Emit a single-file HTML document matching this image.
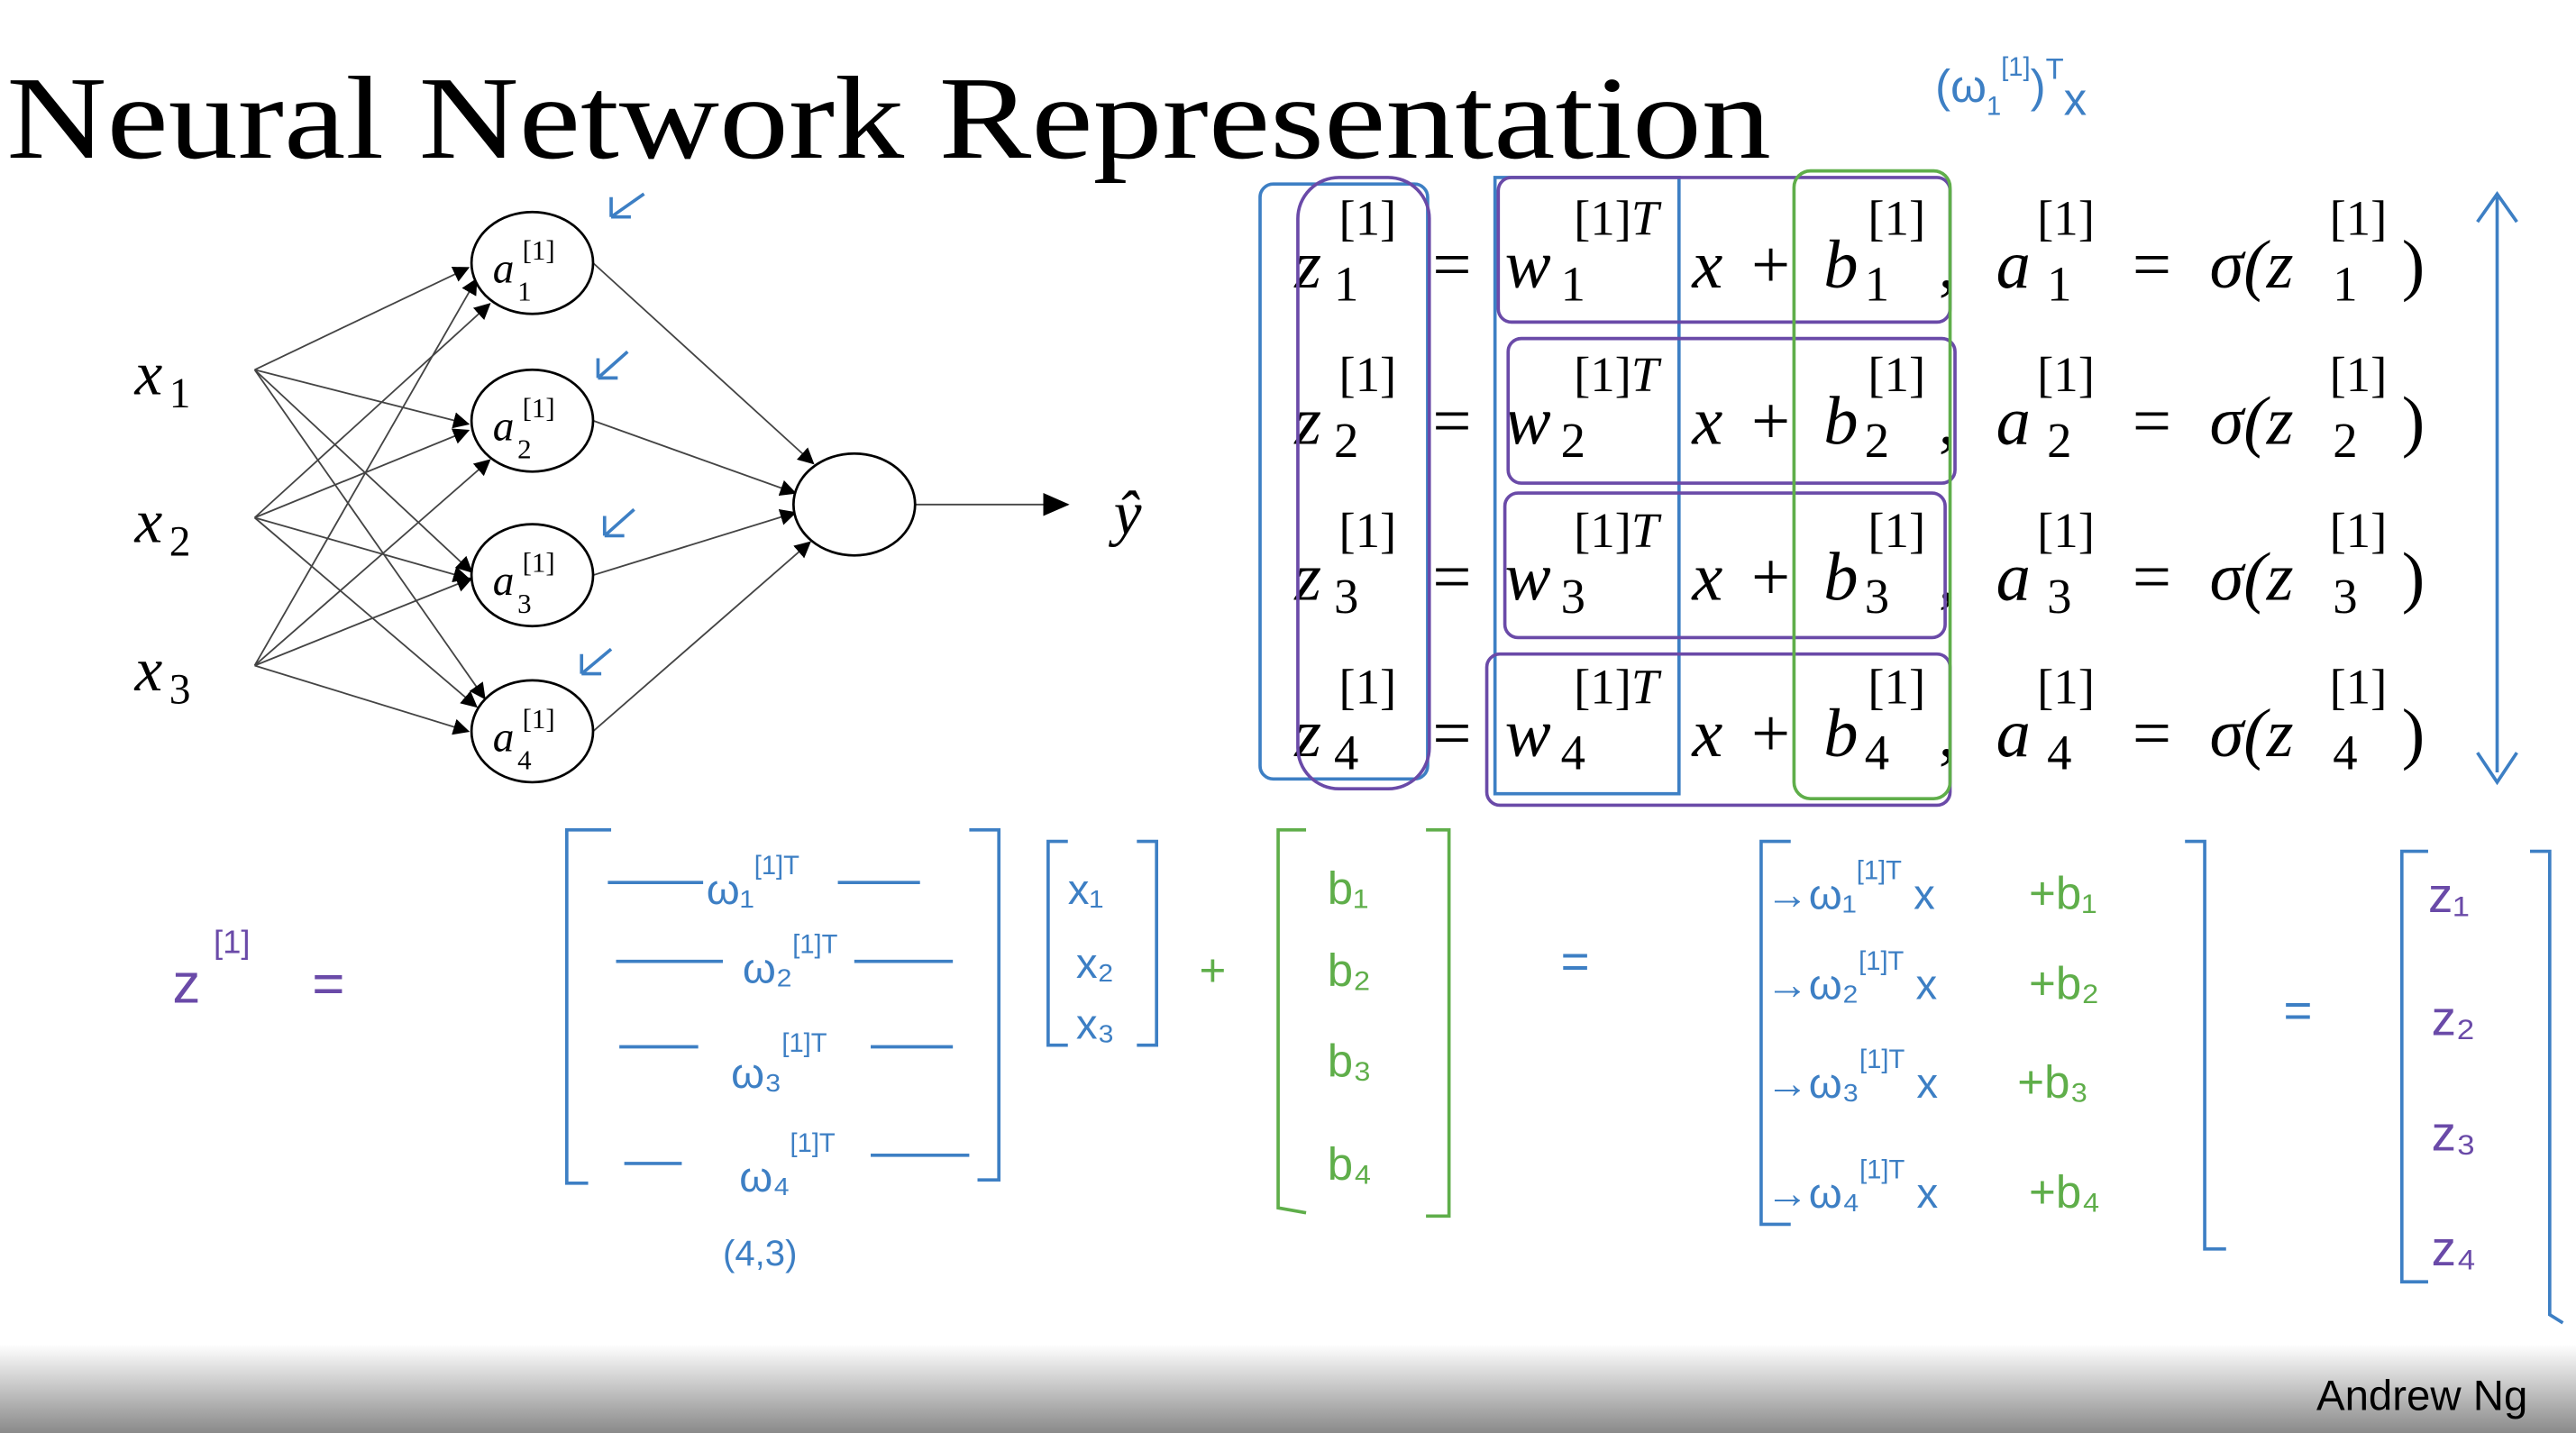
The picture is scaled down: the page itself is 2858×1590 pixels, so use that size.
<!DOCTYPE html>
<html><head><meta charset="utf-8"><style>
html,body{margin:0;padding:0;background:#fff;}
svg{display:block;}
.t{font-family:"Liberation Serif",serif;}
.m{font-family:"Liberation Serif",serif;font-style:italic;}
.h{font-family:"Liberation Sans",sans-serif;}
</style></head><body>
<svg width="2858" height="1590" viewBox="0 0 1568 872" preserveAspectRatio="none" xmlns="http://www.w3.org/2000/svg">
<defs>
<marker id="ar" markerWidth="10" markerHeight="10" refX="9" refY="5" orient="auto" markerUnits="userSpaceOnUse"><path d="M0,0 L10,5 L0,10z" fill="#000"/></marker>
<marker id="ar2" markerWidth="16" markerHeight="16" refX="15" refY="8" orient="auto" markerUnits="userSpaceOnUse"><path d="M0,1 L16,8 L0,15z" fill="#000"/></marker>
<linearGradient id="bar" x1="0" y1="0" x2="0" y2="1"><stop offset="0" stop-color="#fff"/><stop offset="1" stop-color="#8a8a8a"/></linearGradient>
</defs>
<rect width="1568" height="872" fill="#fff"/>
<text x="4" y="96" class="t" font-size="72" textLength="1074" lengthAdjust="spacingAndGlyphs">Neural Network Representation</text>
<text x="1178" y="62" class="h" font-size="28" fill="#3d7fc4">(ω<tspan font-size="16" dy="8">1</tspan><tspan font-size="16" dy="-24">[1]</tspan><tspan dy="16">)</tspan><tspan font-size="18" dy="-14">T</tspan><tspan dy="22">x</tspan></text>

<!-- network -->
<g stroke="#444" stroke-width="1" fill="none">
<line x1="155" y1="225" x2="285" y2="163" marker-end="url(#ar)"/>
<line x1="155" y1="225" x2="285" y2="258" marker-end="url(#ar)"/>
<line x1="155" y1="225" x2="287" y2="348" marker-end="url(#ar)"/>
<line x1="155" y1="225" x2="295" y2="425" marker-end="url(#ar)"/>
<line x1="155" y1="315" x2="298" y2="185" marker-end="url(#ar)"/>
<line x1="155" y1="315" x2="285" y2="262" marker-end="url(#ar)"/>
<line x1="155" y1="315" x2="285" y2="352" marker-end="url(#ar)"/>
<line x1="155" y1="315" x2="290" y2="430" marker-end="url(#ar)"/>
<line x1="155" y1="405" x2="290" y2="170" marker-end="url(#ar)"/>
<line x1="155" y1="405" x2="298" y2="280" marker-end="url(#ar)"/>
<line x1="155" y1="405" x2="287" y2="352" marker-end="url(#ar)"/>
<line x1="155" y1="405" x2="285" y2="445" marker-end="url(#ar)"/>
<line x1="361" y1="160" x2="495" y2="282" marker-end="url(#ar)"/>
<line x1="361" y1="256" x2="484" y2="300" marker-end="url(#ar)"/>
<line x1="361" y1="350" x2="484" y2="312" marker-end="url(#ar)"/>
<line x1="361" y1="445" x2="493" y2="330" marker-end="url(#ar)"/>
<line x1="557" y1="307" x2="650" y2="307" marker-end="url(#ar2)"/>
</g>
<g stroke="#000" stroke-width="1.5" fill="#fff">
<ellipse cx="324" cy="160" rx="37" ry="31"/>
<ellipse cx="324" cy="256" rx="37" ry="31"/>
<ellipse cx="324" cy="350" rx="37" ry="31"/>
<ellipse cx="324" cy="445" rx="37" ry="31"/>
<ellipse cx="520" cy="307" rx="37" ry="31"/>
</g>
<g class="m" font-size="26">
<text x="300" y="172">a</text><text x="300" y="268">a</text><text x="300" y="362">a</text><text x="300" y="457">a</text>
</g>
<g class="t" font-size="17">
<text x="318" y="158">[1]</text><text x="318" y="254">[1]</text><text x="318" y="348">[1]</text><text x="318" y="443">[1]</text>
<text x="315" y="183">1</text><text x="315" y="279">2</text><text x="315" y="373">3</text><text x="315" y="468">4</text>
</g>
<g class="m" font-size="38"><text x="82" y="240">x</text><text x="82" y="330">x</text><text x="82" y="420">x</text><text x="678" y="325">ŷ</text></g>
<g class="t" font-size="26"><text x="103" y="248">1</text><text x="103" y="338">2</text><text x="103" y="428">3</text></g>
<g stroke="#3d7fc4" stroke-width="2" fill="none">
<path d="M392,118 L372,132 M372,132 L372,120 M372,132 L384,132"/>
<path d="M382,214 L364,230 M364,230 L364,218 M364,230 L376,230"/>
<path d="M386,310 L368,326 M368,326 L368,314 M368,326 L380,326"/>
<path d="M372,395 L354,410 M354,410 L354,398 M354,410 L366,410"/>
</g>

<!-- equations -->
<g class="m" font-size="42">
<text x="788" y="175">z</text><text x="788" y="270">z</text><text x="788" y="365">z</text><text x="788" y="460">z</text>
<text x="916" y="175">w</text><text x="916" y="270">w</text><text x="916" y="365">w</text><text x="916" y="460">w</text>
<text x="1030" y="175">x</text><text x="1030" y="270">x</text><text x="1030" y="365">x</text><text x="1030" y="460">x</text>
<text x="1110" y="175">b</text><text x="1110" y="270">b</text><text x="1110" y="365">b</text><text x="1110" y="460">b</text>
<text x="1215" y="175">a</text><text x="1215" y="270">a</text><text x="1215" y="365">a</text><text x="1215" y="460">a</text>
<text x="1345" y="175">σ(z</text><text x="1345" y="270">σ(z</text><text x="1345" y="365">σ(z</text><text x="1345" y="460">σ(z</text>
</g>
<g class="t" font-size="42">
<text x="872" y="175">=</text><text x="872" y="270">=</text><text x="872" y="365">=</text><text x="872" y="460">=</text>
<text x="1066" y="175">+</text><text x="1066" y="270">+</text><text x="1066" y="365">+</text><text x="1066" y="460">+</text>
<text x="1180" y="175">,</text><text x="1180" y="270">,</text><text x="1180" y="365">,</text><text x="1180" y="460">,</text>
<text x="1298" y="175">=</text><text x="1298" y="270">=</text><text x="1298" y="365">=</text><text x="1298" y="460">=</text>
<text x="1462" y="175">)</text><text x="1462" y="270">)</text><text x="1462" y="365">)</text><text x="1462" y="460">)</text>
</g>
<g class="t" font-size="30">
<text x="815" y="143">[1]</text><text x="958" y="143">[1]<tspan class="m">T</tspan></text><text x="1137" y="143">[1]</text><text x="1240" y="143">[1]</text><text x="1418" y="143">[1]</text>
<text x="815" y="238">[1]</text><text x="958" y="238">[1]<tspan class="m">T</tspan></text><text x="1137" y="238">[1]</text><text x="1240" y="238">[1]</text><text x="1418" y="238">[1]</text>
<text x="815" y="333">[1]</text><text x="958" y="333">[1]<tspan class="m">T</tspan></text><text x="1137" y="333">[1]</text><text x="1240" y="333">[1]</text><text x="1418" y="333">[1]</text>
<text x="815" y="428">[1]</text><text x="958" y="428">[1]<tspan class="m">T</tspan></text><text x="1137" y="428">[1]</text><text x="1240" y="428">[1]</text><text x="1418" y="428">[1]</text>
<text x="812" y="183">1</text><text x="950" y="183">1</text><text x="1135" y="183">1</text><text x="1246" y="183">1</text><text x="1420" y="183">1</text>
<text x="812" y="278">2</text><text x="950" y="278">2</text><text x="1135" y="278">2</text><text x="1246" y="278">2</text><text x="1420" y="278">2</text>
<text x="812" y="373">3</text><text x="950" y="373">3</text><text x="1135" y="373">3</text><text x="1246" y="373">3</text><text x="1420" y="373">3</text>
<text x="812" y="468">4</text><text x="950" y="468">4</text><text x="1135" y="468">4</text><text x="1246" y="468">4</text><text x="1420" y="468">4</text>
</g>
<g fill="none" stroke-width="2">
<rect x="767" y="112" width="102" height="362" rx="8" stroke="#3d7fc4"/>
<rect x="790" y="108" width="80" height="372" rx="25" stroke="#6a4aa8"/>
<rect x="910" y="108" width="112" height="375" stroke="#3d7fc4"/>
<rect x="912" y="108" width="275" height="88" rx="8" stroke="#6a4aa8"/>
<rect x="918" y="206" width="272" height="88" rx="8" stroke="#6a4aa8"/>
<rect x="916" y="300" width="268" height="88" rx="8" stroke="#6a4aa8"/>
<rect x="905" y="398" width="282" height="92" rx="8" stroke="#6a4aa8"/>
<rect x="1092" y="104" width="95" height="382" rx="10" stroke="#5fae4a"/>
<path d="M1520,120 L1520,470 M1508,135 L1520,118 L1532,135 M1508,458 L1520,476 L1532,458" stroke="#3d7fc4"/>
</g>

<!-- bottom handwritten -->
<g class="h" font-size="34" fill="#6a4aa8"><text x="105" y="610">z</text><text x="130" y="580" font-size="20">[1]</text><text x="190" y="610">=</text></g>
<g fill="none" stroke="#3d7fc4" stroke-width="2">
<path d="M372,505 L345,505 L345,720 L358,720"/><path d="M590,505 L608,505 L608,718 L595,718"/>
<line x1="370" y1="537" x2="428" y2="537"/><line x1="510" y1="537" x2="560" y2="537"/>
<line x1="375" y1="585" x2="440" y2="585"/><line x1="520" y1="585" x2="580" y2="585"/>
<line x1="377" y1="637" x2="425" y2="637"/><line x1="530" y1="637" x2="580" y2="637"/>
<line x1="380" y1="708" x2="415" y2="708"/><line x1="530" y1="703" x2="590" y2="703"/>
<path d="M650,512 L638,512 L638,636 L650,636"/><path d="M692,512 L704,512 L704,636 L692,636"/>
<path d="M1090,512 L1072,512 L1072,745 L1090,745"/><path d="M1330,512 L1342,512 L1342,760 L1355,760"/>
<path d="M1478,518 L1462,518 L1462,780 L1478,780"/><path d="M1540,518 L1552,518 L1552,800 L1560,805"/>
</g>
<g class="h" fill="#3d7fc4" font-size="26">
<text x="430" y="550">ω₁<tspan font-size="16" dy="-18">[1]T</tspan></text>
<text x="452" y="598">ω₂<tspan font-size="16" dy="-18">[1]T</tspan></text>
<text x="445" y="662">ω₃<tspan font-size="16" dy="-22">[1]T</tspan></text>
<text x="450" y="725">ω₄<tspan font-size="16" dy="-24">[1]T</tspan></text>
<text x="440" y="770" font-size="22">(4,3)</text>
<text x="650" y="550">x₁</text><text x="655" y="595">x₂</text><text x="655" y="632">x₃</text>
<text x="1075" y="553">→ω₁<tspan font-size="16" dy="-18">[1]T</tspan><tspan dy="18"> x</tspan></text>
<text x="1075" y="608">→ω₂<tspan font-size="16" dy="-18">[1]T</tspan><tspan dy="18"> x</tspan></text>
<text x="1075" y="668">→ω₃<tspan font-size="16" dy="-18">[1]T</tspan><tspan dy="18"> x</tspan></text>
<text x="1075" y="735">→ω₄<tspan font-size="16" dy="-18">[1]T</tspan><tspan dy="18"> x</tspan></text>
<text x="950" y="595" font-size="30">=</text><text x="1390" y="625" font-size="30">=</text>
</g>
<g class="h" fill="#5fae4a" font-size="28">
<path d="M795,505 L778,505 L778,735 L795,738 M868,505 L882,505 L882,740 L868,740" fill="none" stroke="#5fae4a" stroke-width="2"/>
<text x="808" y="550">b₁</text><text x="808" y="600">b₂</text><text x="808" y="655">b₃</text><text x="808" y="718">b₄</text>
<text x="730" y="600">+</text>
<text x="1235" y="553">+b₁</text><text x="1235" y="608">+b₂</text><text x="1228" y="668">+b₃</text><text x="1235" y="735">+b₄</text>
</g>
<g class="h" fill="#6a4aa8" font-size="30">
<text x="1478" y="555">z₁</text><text x="1480" y="630">z₂</text><text x="1480" y="700">z₃</text><text x="1480" y="770">z₄</text>
</g>

<rect x="0" y="818" width="1568" height="54" fill="url(#bar)"/>
<text x="1410" y="858" class="h" font-size="26" fill="#000">Andrew Ng</text>
</svg>
</body></html>
